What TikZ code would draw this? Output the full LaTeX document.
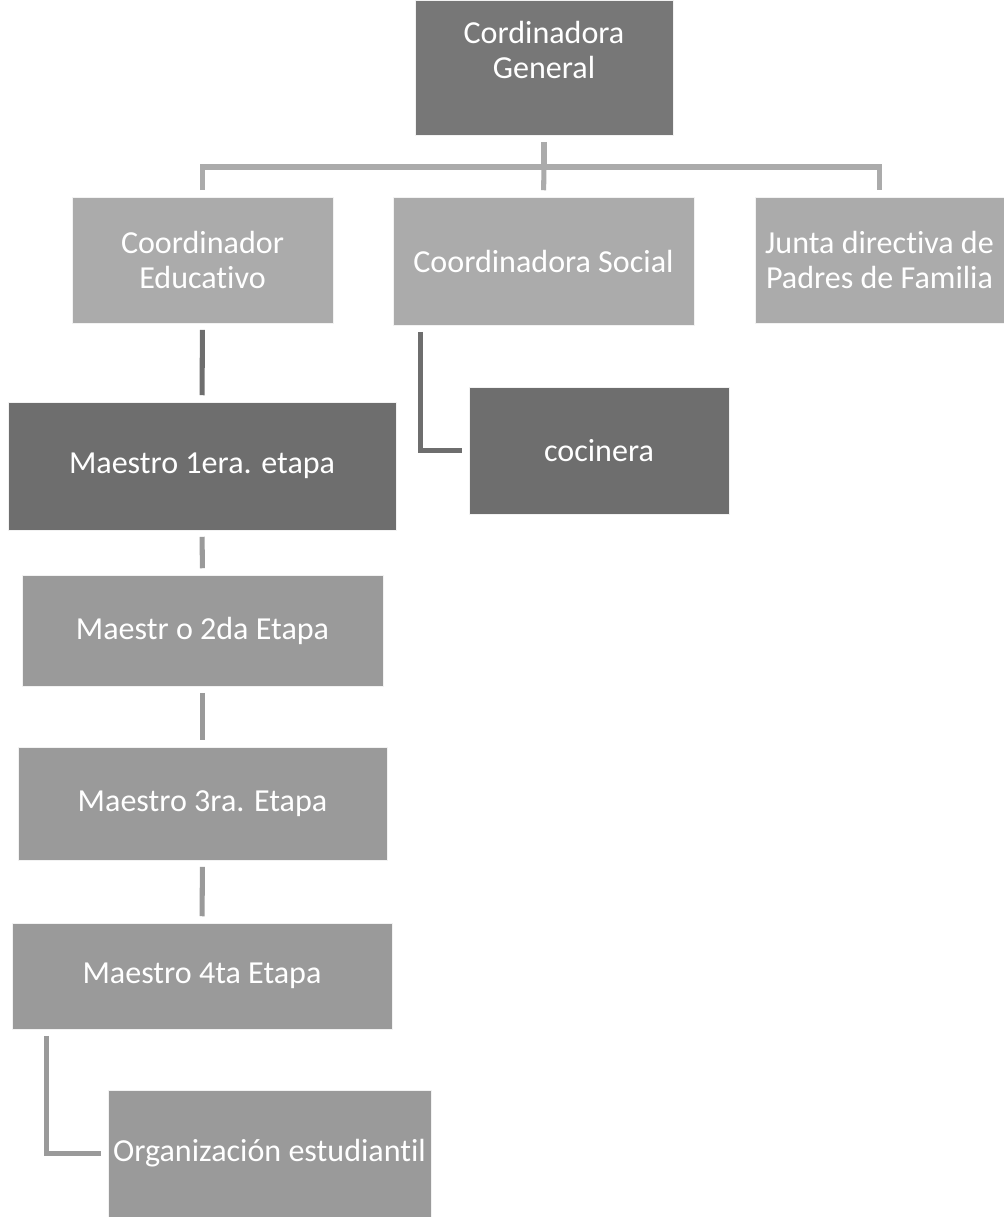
\documentclass[tikz,border=0pt]{standalone}
\usepackage{fontspec}
\setmainfont{Carlito}[Ligatures=NoCommon]
\usepackage{tikz}

\definecolor{darkbox}{HTML}{6E6E6E}
\definecolor{topbox}{HTML}{777777}
\definecolor{lightbox}{HTML}{ABABAB}
\definecolor{midbox}{HTML}{9A9A9A}

\begin{document}
\begin{tikzpicture}[x=0.025cm,y=-0.025cm,
  box/.style={draw=white!90!gray,line width=0.6pt,text=white,align=center,
    inner sep=1pt,font=\fontsize{22.8}{24.9}\selectfont},
  link/.style={line width=3.6pt,shorten <=4.5pt,shorten >=4.5pt}]
  % 1. Frame
  \useasboundingbox (0,0) rectangle (1004,1217);

  % 2. Boxes
  \node[box,fill=topbox,minimum width=258*0.7113pt,minimum height=135*0.7113pt]
    (gen) at (544,67.5) {Cordinadora\\General\\~};
  \node[box,fill=lightbox,minimum width=261*0.7113pt,minimum height=126*0.7113pt]
    (edu) at (202.5,260) {Coordinador\\Educativo};
  \node[box,fill=lightbox,minimum width=301*0.7113pt,minimum height=128*0.7113pt]
    (soc) at (543.5,261) {Coordinadora Social};
  \node[box,fill=lightbox,minimum width=249*0.7113pt,minimum height=126*0.7113pt]
    (junta) at (879.5,260) {Junta directiva de\\Padres de Familia};
  \node[box,fill=darkbox,minimum width=388*0.7113pt,minimum height=128*0.7113pt]
    (m1) at (202,466) {Maestro 1era. etapa};
  \node[box,fill=darkbox,minimum width=260*0.7113pt,minimum height=127*0.7113pt]
    (coc) at (599,450.5) {cocinera};
  \node[box,fill=midbox,minimum width=361*0.7113pt,minimum height=111*0.7113pt]
    (m2) at (202.5,630.5) {Maestr o 2da Etapa};
  \node[box,fill=midbox,minimum width=369*0.7113pt,minimum height=113*0.7113pt]
    (m3) at (202.5,803.5) {Maestro 3ra. Etapa};
  \node[box,fill=midbox,minimum width=380*0.7113pt,minimum height=106*0.7113pt]
    (m4) at (202,976) {Maestro 4ta Etapa};
  \node[box,fill=midbox,minimum width=323*0.7113pt,minimum height=127*0.7113pt]
    (org) at (269.5,1153.5) {Organización estudiantil};

  % 3. Top level tree
  \coordinate (bus) at (544,167);
  \draw[link,lightbox,shorten >=0pt] (gen.south) -- (bus);
  \draw[link,lightbox] (edu.north) |- (bus) -| (junta.north);
  \draw[link,lightbox,shorten <=0pt] (bus) -- (soc.north);

  % 4. Lower branches
  \draw[link,darkbox] (edu.south) -- (m1.north);
  \draw[link,darkbox] ([xshift=28*0.7113pt]soc.south west) |- (coc.west);
  \draw[link,midbox] (m1.south) -- (m2.north);
  \draw[link,midbox] (m2.south) -- (m3.north);
  \draw[link,midbox] (m3.south) -- (m4.north);
  \draw[link,midbox] ([xshift=35*0.7113pt]m4.south west) |- (org.west);
\end{tikzpicture}
\end{document}
